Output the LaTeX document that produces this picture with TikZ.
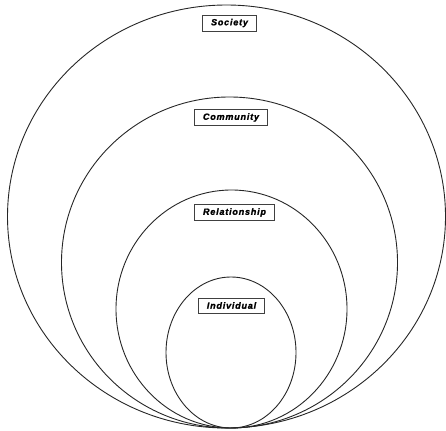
\documentclass[tikz,border=0pt]{standalone}
\usepackage{fontspec}
\setmainfont{Liberation Sans}
\begin{document}
\begin{tikzpicture}[x=1pt,y=-1pt,
  ring/.style={draw=black!85,line width=0.9pt},
  lbl/.style={draw=black!75,line width=0.6pt,fill=white,inner xsep=8.5pt,inner ysep=0pt,minimum height=16pt,
    font=\fontsize{9}{10}\selectfont\bfseries\itshape\addfontfeatures{LetterSpace=9,FakeBold=1.5}}]
\useasboundingbox (0,0) rectangle (446,430);
\draw[ring] (226.5,216.5) ellipse [x radius=219, y radius=211.5];
\draw[ring] (229.5,262.5) ellipse [x radius=168, y radius=165.5];
\draw[ring] (231.5,309) ellipse [x radius=115.5, y radius=119];
\draw[ring] (231,352.5) ellipse [x radius=65, y radius=75.5];
\node[lbl] (soc) at (229.5,23) {Society};
\node[lbl] (com) at (231,117.5) {Community};
\node[lbl] (rel) at (234.5,212.5) {Relationship};
\node[lbl,minimum height=15pt] (ind) at (231.5,305.5) {Individual};
\end{tikzpicture}
\end{document}
